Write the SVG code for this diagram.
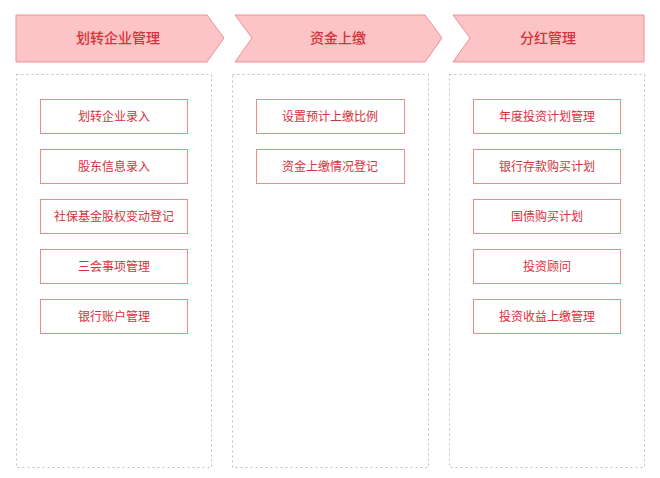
<svg xmlns="http://www.w3.org/2000/svg" width="660" height="478" viewBox="0 0 660 478">
<style>
.h{fill:#fcc4c6;stroke:#ef8f93;stroke-width:1}
.ht{font-family:"Noto Sans CJK SC",sans-serif;font-size:14px;fill:#d8313a;text-anchor:middle;font-weight:500}
.c{fill:none;stroke:#bdbdbd;stroke-width:1;stroke-dasharray:2 3}
.b{fill:#fff;stroke:#ec8a8e;stroke-width:1}
.t{font-family:"Noto Sans CJK SC",sans-serif;font-size:12px;fill:#d8313a;text-anchor:middle}
</style>
<rect width="660" height="478" fill="#fff"/>
<g id="h1"><path class="h" d="M16 15H207L224 38L207 62H16Z"/><text class="ht" x="118" y="43">划转企业管理</text></g>
<g id="h2"><path class="h" d="M235 15H425L442 38L425 62H235L252 38Z"/><text class="ht" x="338" y="43">资金上缴</text></g>
<g id="h3"><path class="h" d="M453 15H644V62H453L470 38Z"/><text class="ht" x="548" y="43">分红管理</text></g>
<g id="cols"><rect class="c" x="16.5" y="74.5" width="195" height="393"/><rect class="c" x="232.5" y="74.5" width="196" height="393"/><rect class="c" x="449.5" y="74.5" width="195" height="393"/></g>
<g id="c1">
<g id="n11"><rect class="b" x="40.5" y="99.5" width="147" height="34"/><text class="t" x="114" y="121">划转企业录入</text></g>
<g id="n12"><rect class="b" x="40.5" y="149.5" width="147" height="34"/><text class="t" x="114" y="171">股东信息录入</text></g>
<g id="n13"><rect class="b" x="40.5" y="199.5" width="147" height="34"/><text class="t" x="114" y="221">社保基金股权变动登记</text></g>
<g id="n14"><rect class="b" x="40.5" y="249.5" width="147" height="34"/><text class="t" x="114" y="271">三会事项管理</text></g>
<g id="n15"><rect class="b" x="40.5" y="299.5" width="147" height="34"/><text class="t" x="114" y="321">银行账户管理</text></g>
</g>
<g id="c2">
<g id="n21"><rect class="b" x="256.5" y="99.5" width="148" height="34"/><text class="t" x="330" y="121">设置预计上缴比例</text></g>
<g id="n22"><rect class="b" x="256.5" y="149.5" width="148" height="34"/><text class="t" x="330" y="171">资金上缴情况登记</text></g>
</g>
<g id="c3">
<g id="n31"><rect class="b" x="473.5" y="99.5" width="147" height="34"/><text class="t" x="547" y="121">年度投资计划管理</text></g>
<g id="n32"><rect class="b" x="473.5" y="149.5" width="147" height="34"/><text class="t" x="547" y="171">银行存款购买计划</text></g>
<g id="n33"><rect class="b" x="473.5" y="199.5" width="147" height="34"/><text class="t" x="547" y="221">国债购买计划</text></g>
<g id="n34"><rect class="b" x="473.5" y="249.5" width="147" height="34"/><text class="t" x="547" y="271">投资顾问</text></g>
<g id="n35"><rect class="b" x="473.5" y="299.5" width="147" height="34"/><text class="t" x="547" y="321">投资收益上缴管理</text></g>
</g>
<g id="connectors"/>
</svg>
